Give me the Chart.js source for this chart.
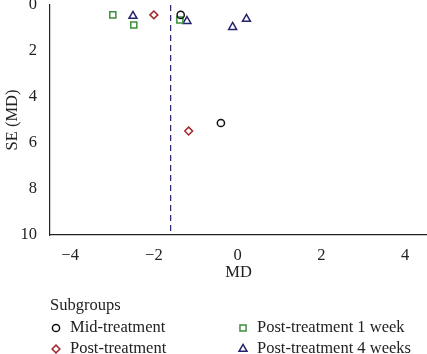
<!DOCTYPE html>
<html>
<head>
<meta charset="utf-8">
<script src="https://cdn.jsdelivr.net/npm/chart.js@4"></script>
<style>
  html, body { margin: 0; padding: 0; background: #fff; }
  #wrap { width: 427px; height: 354px; overflow: hidden; }
</style>
</head>
<body>
<div id="wrap"><canvas id="funnelChart" width="427" height="354"></canvas></div>
<script>
// Datos (MD, SE)
const subgroups = ['Mid-treatment', 'Post-treatment', 'Post-treatment 1 week', 'Post-treatment 4 weeks'];
const midMD = [-1.36, -0.40];
const midSE = [0.43, 5.13];
const postMD = [-2.0, -1.17];
const postSE = [0.43, 5.48];
const week1MD = [-2.98, -2.48, -1.38];
const week1SE = [0.43, 0.87, 0.65];
const week4MD = [-2.5, -1.21, -0.12, 0.21];
const week4SE = [0.48, 0.70, 0.96, 0.61];
const pooledMD = -1.6;
const xTicks = [-4, -2, 0, 2, 4];
const yTicks = [0, 2, 4, 6, 8, 10];

const colors = ['#111111', '#a3262a', '#3d8f3d', '#23236e'];
const shapes = ['circle', 'rectRot', 'rect', 'triangle'];
const radii = [3.6, 3.9, 4.3, 4.6];
const font = "'Liberation Serif', 'DejaVu Serif', serif";

function toPoints(xs, ys) {
    return xs.map((x, i) => ({ x: x, y: ys[i] }));
}

const seriesX = [midMD, postMD, week1MD, week4MD];
const seriesY = [midSE, postSE, week1SE, week4SE];

const datasets = subgroups.map((name, i) => ({
    label: name,
    data: toPoints(seriesX[i], seriesY[i]),
    pointStyle: shapes[i],
    pointRadius: radii[i],
    borderColor: colors[i],
    backgroundColor: 'rgba(0,0,0,0)',
    pointBorderWidth: 1.5,
    showLine: false
}));

// Linea discontinua vertical en el MD combinado
datasets.push({
    label: 'pooled',
    type: 'line',
    data: [{ x: pooledMD, y: 0 }, { x: pooledMD, y: 10 }],
    borderColor: '#23236e',
    borderWidth: 1.2,
    borderDash: [6, 4],
    pointRadius: 0,
    showLine: true
});

// Leyenda dibujada a mano (dos columnas)
const legendPlugin = {
    id: 'subgroupLegend',
    afterDraw(chart) {
        const ctx = chart.ctx;
        ctx.save();
        ctx.font = '16.5px ' + font;
        ctx.fillStyle = '#222';
        ctx.textBaseline = 'middle';
        ctx.fillText('Subgroups', 50, 306);
        const pos = [[56, 328], [56, 349], [243, 328], [243, 349]];
        subgroups.forEach((name, i) => {
            const [px, py] = pos[i];
            ctx.strokeStyle = colors[i];
            ctx.fillStyle = 'rgba(0,0,0,0)';
            ctx.lineWidth = 1.5;
            Chart.helpers.drawPoint(ctx, { pointStyle: shapes[i], radius: radii[i], borderWidth: 1.5 }, px, py);
            ctx.fillStyle = '#222';
            ctx.fillText(name, px + 14, py);
        });
        ctx.restore();
    }
};

const ctx = document.getElementById('funnelChart').getContext('2d');
const funnelChart = new Chart(ctx, {
    type: 'scatter',
    data: { datasets: datasets },
    options: {
        responsive: false,
        animation: false,
        layout: { autoPadding: false, padding: { top: 5, right: 0, bottom: 71, left: 0 } },
        plugins: {
            legend: { display: false },
            tooltip: { enabled: false }
        },
        scales: {
            x: {
                type: 'linear',
                min: -4.48,
                max: 4.52,
                afterBuildTicks: axis => { axis.ticks = xTicks.map(v => ({ value: v })); },
                afterFit: axis => { axis.height = 48; axis.paddingLeft = 0; axis.paddingRight = 0; },
                grid: { display: false, drawTicks: true, tickLength: 5, tickColor: '#222' },
                border: { display: true, color: '#222', width: 1.2 },
                ticks: {
                    color: '#222',
                    font: { family: font, size: 16.5 },
                    padding: 6,
                    callback: v => (v < 0 ? '\u2212' + Math.abs(v) : v)
                },
                title: { display: true, text: 'MD', color: '#222', font: { family: font, size: 16.5 }, padding: { top: 0, bottom: 0 } }
            },
            y: {
                type: 'linear',
                reverse: true,
                min: 0,
                max: 10,
                afterBuildTicks: axis => { axis.ticks = yTicks.map(v => ({ value: v })); },
                afterFit: axis => { axis.width = 50; axis.paddingTop = 0; axis.paddingBottom = 0; },
                grid: { display: false, drawTicks: true, tickLength: 5, tickColor: '#222' },
                border: { display: true, color: '#222', width: 1.2 },
                ticks: { color: '#222', font: { family: font, size: 16.5 }, padding: 8 },
                title: { display: true, text: 'SE (MD)', color: '#222', font: { family: font, size: 16.5 }, padding: { top: 3, bottom: 0 } }
            }
        }
    },
    plugins: [legendPlugin]
});
</script>
</body>
</html>
